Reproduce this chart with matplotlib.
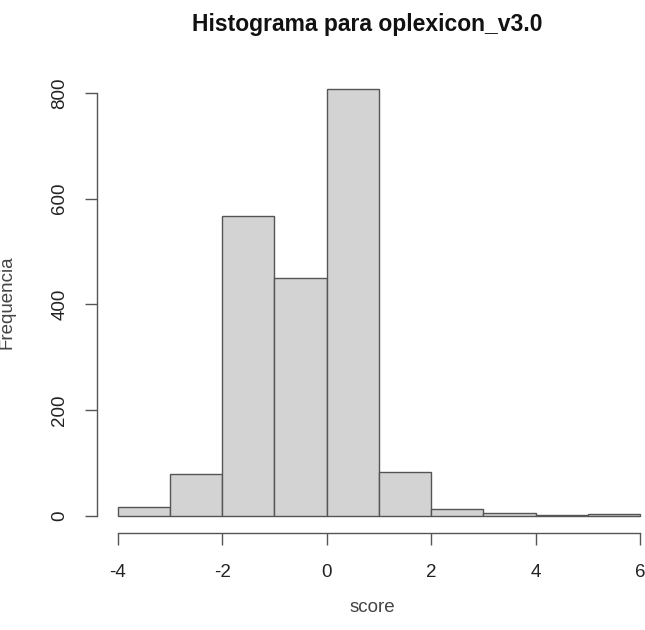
import matplotlib
matplotlib.use("Agg")
import matplotlib.pyplot as plt
import numpy as np

plt.rcParams['font.family'] = ['Liberation Sans', 'DejaVu Sans']

bin_edges = [-4, -3, -2, -1, 0, 1, 2, 3, 4, 5, 6]
counts = [17, 80, 567, 450, 808, 83, 13, 5, 1, 3]
x_ticks = [-4, -2, 0, 2, 4, 6]
y_ticks = [0, 200, 400, 600, 800]

W, H = 645, 630
fig = plt.figure(figsize=(W / 100, H / 100), dpi=100)
ax = fig.add_axes([0.150, 0.154, 0.875, 0.7325])

ax.bar(bin_edges[:-1], counts, width=np.diff(bin_edges), align='edge',
       color='#D3D3D3', edgecolor='#555555', linewidth=1.0)

ax.set_xlim(-4.4, 6.4)
ax.set_ylim(-32.3, 840.3)
for s in ['top', 'right']:
    ax.spines[s].set_visible(False)
ax.spines['bottom'].set_bounds(-4, 6)
ax.spines['left'].set_bounds(0, 800)
for s in ['bottom', 'left']:
    ax.spines[s].set_color('#555555')
    ax.spines[s].set_linewidth(1.0)

ax.set_xticks(x_ticks)
ax.set_yticks(y_ticks)
ax.set_xticklabels([str(t) for t in x_ticks])
ax.set_yticklabels([str(t) for t in y_ticks], rotation=90, va='center')
ax.tick_params(axis='both', length=8.5, width=1.0, color='#555555',
               labelsize=13.5, labelcolor='#222222')
ax.tick_params(axis='x', pad=14)
ax.tick_params(axis='y', pad=12)

fig.text(372 / W, 1 - 608 / H, 'score', ha='center', va='center',
         fontsize=13.5, color='#444444')
fig.text(7 / W, 1 - 302 / H, 'Frequencia', ha='center', va='center',
         rotation=90, fontsize=13.5, color='#444444')

fig.text(367 / W, 1 - 24 / H, 'Histograma para oplexicon_v3.0', ha='center', va='center',
         fontsize=16.5, fontweight='bold', color='#111111')

fig.savefig('out.png', dpi=100)
